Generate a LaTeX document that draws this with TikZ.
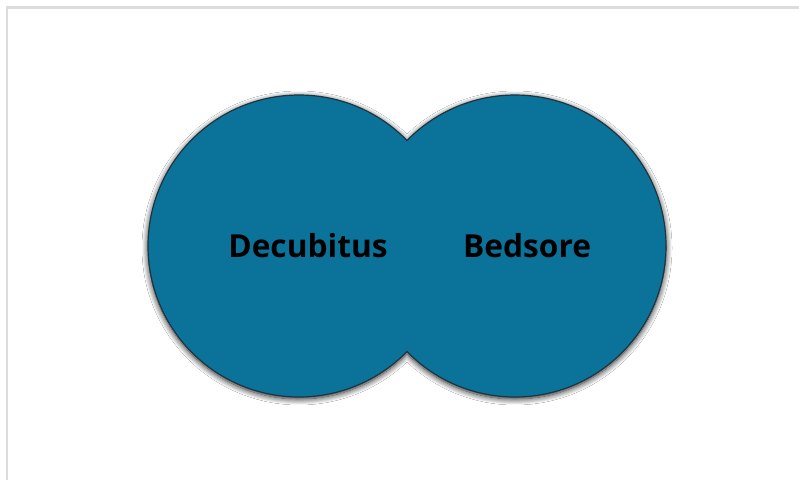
\documentclass[tikz,border=0pt]{standalone}
\usepackage{fontspec}
\setmainfont{Open Sans}
\usetikzlibrary{shadows.blur}
\definecolor{fillblue}{HTML}{0B7399}
\definecolor{edgedark}{HTML}{1E3440}
\definecolor{framegray}{HTML}{DCDCDC}
\tikzset{
  txtlbl/.style={font=\fontsize{31.7}{36}\selectfont\bfseries, text=black, inner sep=0pt},
  unionshape/.style={fill=fillblue, draw=edgedark, line width=1.2pt,
    blur shadow={shadow xshift=0pt, shadow yshift=-2pt, shadow blur radius=6pt, shadow opacity=90, shadow blur steps=12}}
}
\begin{document}
\begin{tikzpicture}[x=1pt,y=1pt]
\useasboundingbox (0,0) rectangle (799,480);
\fill[white] (0,0) rectangle (799,480);
\draw[framegray, line width=2.5pt] (7,0) -- (7,472.5) -- (799,472.5);
\coordinate (lc) at (299,234);
\coordinate (rc) at (515,234);
\path[unionshape] (407,339.5) arc[start angle=44.33, end angle=315.67, radius=151]
  arc[start angle=224.33, end angle=495.67, radius=151] -- cycle;
\node[txtlbl] (dec) at (308,234) {Decubitus};
\node[txtlbl] (bed) at (527,234) {Bedsore};
\end{tikzpicture}
\end{document}
